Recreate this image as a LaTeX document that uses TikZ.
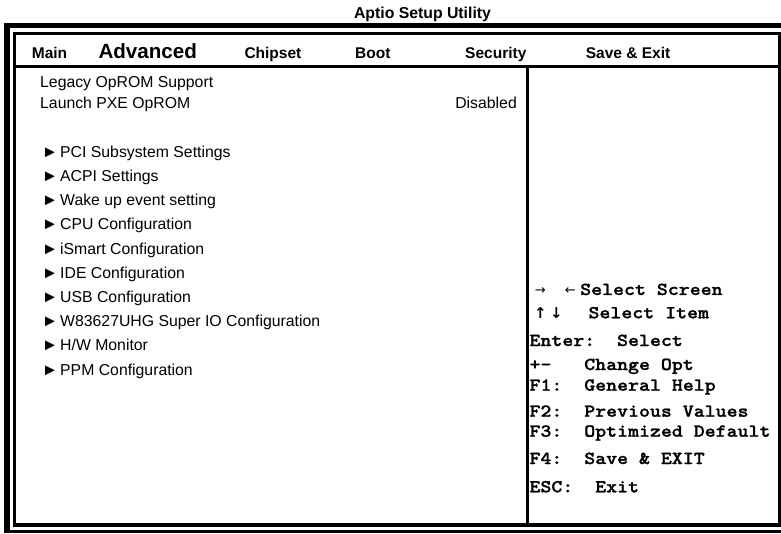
\documentclass[tikz,border=0pt]{standalone}
\usepackage{fontspec}
\setmainfont{Liberation Sans}
\newfontfamily\helpfont[FakeStretch=1.14,FakeBold=1.2]{lmmonolt10-bold.otf}
\newfontfamily\arrowfont{DejaVu Sans}
\newcommand\itm[1]{\makebox[18.3pt][l]{\fontsize{16.5}{18}\selectfont ►}#1}

\begin{document}
\begin{tikzpicture}[x=1pt,y=-1pt]
\tikzstyle{every node}+=[inner sep=0pt,anchor=base west]
\tikzstyle{body}=[font=\fontsize{15.8}{18}\selectfont]
\tikzstyle{tab}=[font=\bfseries\fontsize{15.5}{18}\selectfont]
\tikzstyle{help}=[font=\helpfont\fontsize{18.3}{20}\selectfont]
\useasboundingbox (0,0) rectangle (781,534);
% frame
\draw [black,line width=5.5] (6.8,533) -- (6.8,25.5) -- (782,25.5);
\draw [black,line width=2.5] (4,531.5) -- (782,531.5);
\draw [black,line width=3] (14.8,525) -- (14.8,33.5) -- (779.2,33.5) -- (779.2,525);
\draw [black,line width=4.5] (13,525.2) -- (782,525.2);
\draw [black,line width=3] (16,66.5) -- (779,66.5);
\draw [black,line width=2.7] (527.3,68) -- (527.3,523);
% title and tabs
\node [font=\bfseries\fontsize{15.8}{18}\selectfont,anchor=base] (title) at (422.5,18.3) {Aptio Setup Utility};
\node [tab] (main) at (31.7,58.5) {Main};
\node [font=\bfseries\fontsize{20.6}{22}\selectfont] (advanced) at (98.3,58.5) {Advanced};
\node [tab] (chipset) at (244.3,58.5) {Chipset};
\node [tab] (boot) at (355,58.5) {Boot};
\node [tab] (security) at (465,58.5) {Security};
\node [tab] (saveexit) at (585.7,58.5) {Save \& Exit};
% items
\node [body] (legacy) at (40,87.3) {Legacy OpROM Support};
\node [body] (launch) at (40,109) {Launch PXE OpROM};
\node [body,anchor=base east] (disabled) at (517,109) {Disabled};
\node [body] (pci) at (41.7,157.3) {\itm{PCI Subsystem Settings}};
\node [body] (acpi) at (41.7,181.5) {\itm{ACPI Settings}};
\node [body] (wake) at (41.7,205.7) {\itm{Wake up event setting}};
\node [body] (cpu) at (41.7,229.9) {\itm{CPU Configuration}};
\node [body] (ismart) at (41.7,254.1) {\itm{iSmart Configuration}};
\node [body] (ide) at (41.7,278.3) {\itm{IDE Configuration}};
\node [body] (usb) at (41.7,302.5) {\itm{USB Configuration}};
\node [body] (superio) at (41.7,326.7) {\itm{W83627UHG Super IO Configuration}};
\node [body] (hwmon) at (41.7,350.9) {\itm{H/W Monitor}};
\node [body] (ppm) at (41.7,375.1) {\itm{PPM Configuration}};
% help
\node [help] (selscreen) at (529.3,295) {\hbox to 50.7pt{\hspace{5.7pt}\makebox[10pt]{\arrowfont\fontsize{13}{14}\selectfont →}\hspace{20pt}\makebox[10pt]{\arrowfont\fontsize{13}{14}\selectfont ←}\hfill}Select Screen};
\node [help] (selitem) at (529.3,318.3) {\hbox to 59pt{\hspace{8.5pt}\makebox[5pt]{\arrowfont\bfseries\fontsize{15}{16}\selectfont ↑}\hspace{11pt}\makebox[5pt]{\arrowfont\bfseries\fontsize{15}{16}\selectfont ↓}\hfill}Select Item};
\node [help] (enter) at (529.3,346) {Enter:~~Select};
\node [help] (change) at (529.3,370) {+-~~~Change Opt};
\node [help] (fone) at (529.3,390.7) {F1:~~General Help};
\node [help] (ftwo) at (529.3,416.7) {F2:~~Previous Values};
\node [help] (fthree) at (529.3,436.7) {F3:~~Optimized Default};
\node [help] (ffour) at (529.3,464) {F4:~~Save \& EXIT};
\node [help] (esc) at (529.3,492.3) {ESC:~~Exit};
\end{tikzpicture}
\end{document}
